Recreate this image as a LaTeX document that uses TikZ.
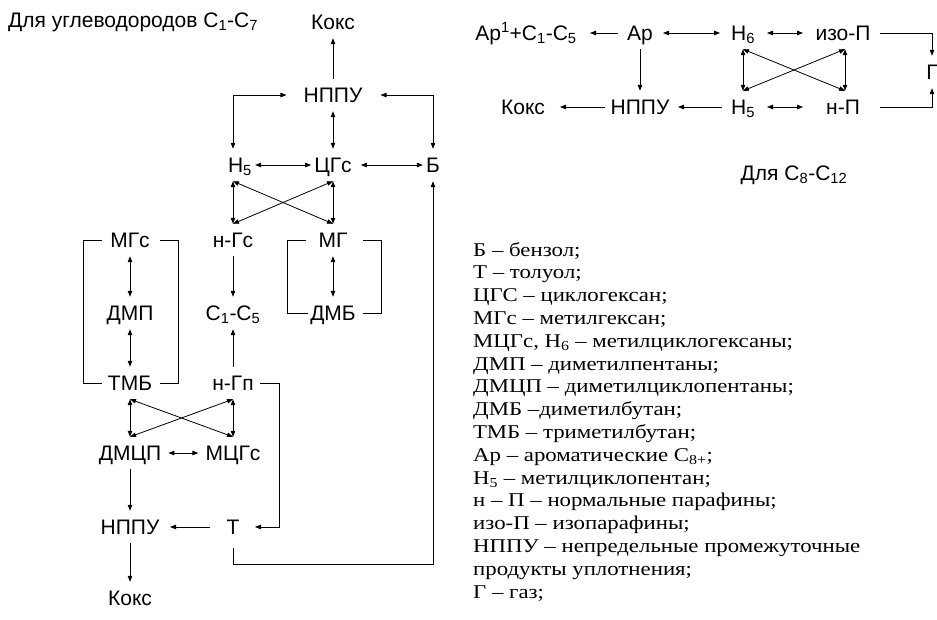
\documentclass[tikz,border=0pt]{standalone}
\usepackage{fontspec}
\setmainfont{Liberation Serif}[FakeStretch=1.17]
\newfontfamily\dsans{Liberation Sans}
\usetikzlibrary{arrows.meta,calc}
\begin{document}
\begin{tikzpicture}[x=1pt,y=-1pt,
  lbl/.style={font=\dsans\fontsize{21}{23}\selectfont,inner xsep=3pt,inner ysep=0pt,text height=15pt,text depth=0pt,minimum height=32pt},
  con/.style={line width=0.8pt},
  ar/.style={con,-{Triangle[length=6pt,width=4.5pt]}},
  dar/.style={con,{Triangle[length=6pt,width=4.5pt]}-{Triangle[length=6pt,width=4.5pt]}}
]
\fill[white] (0,0) rectangle (937,619);
\useasboundingbox (0,0) rectangle (937,619);

% ---------- left diagram ----------
\node[lbl,anchor=west,inner xsep=0pt] (title) at (8,20) {Для углеводородов С\textsubscript{1}-С\textsubscript{7}};
\node[lbl] (K1) at (333,22) {Кокс};
\node[lbl] (N1) at (333,95) {НППУ};
\node[lbl] (H5) at (240,165) {Н\textsubscript{5}};
\node[lbl] (CG) at (333,165) {ЦГс};
\node[lbl] (B) at (433,165) {Б};
\node[lbl] (MGs) at (130,240) {МГс};
\node[lbl] (nGs) at (233,240) {н-Гс};
\node[lbl] (MG) at (333,240) {МГ};
\node[lbl] (DMP) at (130,313) {ДМП};
\node[lbl] (C15) at (233,313) {С\textsubscript{1}-С\textsubscript{5}};
\node[lbl] (DMB) at (333,313) {ДМБ};
\node[lbl] (TMB) at (130,383) {ТМБ};
\node[lbl] (nGp) at (233,383) {н-Гп};
\node[lbl] (DMCP) at (130,453) {ДМЦП};
\node[lbl] (MCGs) at (233,453) {МЦГс};
\node[lbl] (N2) at (130,527) {НППУ};
\node[lbl] (T) at (233,527) {Т};
\node[lbl] (K2) at (130,598) {Кокс};

\draw[ar] (N1.north) -- (K1.south);
\draw[dar] (N1.south) -- (CG.north);
\draw[dar,shorten <=14pt] (N1.west) -| (H5.north -| nGs);
\draw[dar,shorten <=15pt] (N1.east) -| (B.north);
\draw[dar] (H5.east) -- (CG.west);
\draw[dar,shorten <=6pt] (CG.east) -- (B.west);
\draw[dar] (H5.south -| nGs) -- (nGs.north);
\draw[dar] (CG.south) -- (MG.north);
\draw[dar] (H5.south -| nGs) -- (MG.north);
\draw[dar] (CG.south) -- (nGs.north);
\draw[dar] (MGs.south) -- (DMP.north);
\draw[dar] (DMP.south) -- (TMB.north);
\draw[dar] (MG.south) -- (DMB.north);
\draw[ar] (nGs.south) -- (C15.north);
\draw[ar] (nGp.north) -- (C15.south);
% brackets
\draw[con] ($(MGs.center)+(-28,0)$) -- ($(MGs.center)+(-47,0)$) |- ($(TMB.center)+(-28,0)$);
\draw[con] ($(MGs.center)+(30,0)$) -- ($(MGs.center)+(48,0)$) |- ($(TMB.center)+(30,0)$);
\draw[con] ($(MG.center)+(-27,0)$) -- ($(MG.center)+(-46,0)$) |- ($(DMB.center)+(-25,0)$);
\draw[con] ($(MG.center)+(30,0)$) -- ($(MG.center)+(48,0)$) |- ($(DMB.center)+(30,0)$);
% lower cross
\draw[dar] (TMB.south) -- (DMCP.north);
\draw[dar] (nGp.south) -- (MCGs.north);
\draw[dar] (TMB.south) -- (MCGs.north);
\draw[dar] (nGp.south) -- (DMCP.north);
\draw[dar,shorten <=4pt,shorten >=4pt] (DMCP.east) -- (MCGs.west);
\draw[ar] (DMCP.south) -- (N2.north);
\draw[ar] (N2.south) -- (K2.north);
\draw[ar] ($(nGp.center)+(27,0)$) -- ($(nGp.center)+(46,0)$) |- ($(T.center)+(22,0)$);
\draw[ar] ($(T.center)+(-23,0)$) -- ($(N2.center)+(40,0)$);
\draw[ar,shorten <=5pt] (T.south) -- ++(0,21) -| (B.south);

% ---------- right diagram ----------
\node[lbl] (Ap1) at (526,33) {Ар\textsuperscript{1}+С\textsubscript{1}-С\textsubscript{5}};
\node[lbl] (Ar) at (640,33) {Ар};
\node[lbl] (H6) at (743,33) {Н\textsubscript{6}};
\node[lbl] (iso) at (843,33) {изо-П};
\node[lbl] (G) at (932,72) {Г};
\node[lbl] (K3) at (523,107) {Кокс};
\node[lbl] (N3) at (640,107) {НППУ};
\node[lbl] (H5b) at (743,107) {Н\textsubscript{5}};
\node[lbl] (nP) at (843,107) {н-П};
\node[lbl] (dl) at (794,173) {Для С\textsubscript{8}-С\textsubscript{12}};

\draw[ar] ($(Ar.center)+(-22,0)$) -- ($(Ap1.center)+(64,0)$);
\draw[dar] ($(Ar.center)+(23,0)$) -- ($(H6.center)+(-23,0)$);
\draw[dar] ($(H6.center)+(24,0)$) -- ($(iso.center)+(-40,0)$);
\draw[ar] ($(iso.center)+(37,0)$) -| (G.north);
\draw[ar] ($(nP.center)+(37,0)$) -| (G.south);
\draw[ar] (Ar.south) -- (N3.north);
\draw[ar] ($(N3.center)+(-35,0)$) -- ($(K3.center)+(37,0)$);
\draw[ar] ($(H5b.center)+(-21,0)$) -- ($(N3.center)+(38,0)$);
\draw[dar] ($(H5b.center)+(24,0)$) -- ($(nP.center)+(-40,0)$);
\draw[dar] (H6.south) -- (H5b.north);
\draw[dar] ($(iso.south)+(2,0)$) -- ($(nP.north)+(2,0)$);
\draw[dar] (H6.south) -- ($(nP.north)+(2,0)$);
\draw[dar] ($(iso.south)+(2,0)$) -- (H5b.north);

% ---------- legend ----------
\node[anchor=north west,align=left,inner sep=0pt,font=\fontsize{19.5}{22.8}\selectfont] (leg) at (473,242) {%
Б – бензол;\\
Т – толуол;\\
ЦГС – циклогексан;\\
МГс – метилгексан;\\
МЦГс, Н\textsubscript{6} – метилциклогексаны;\\
ДМП – диметилпентаны;\\
ДМЦП – диметилциклопентаны;\\
ДМБ –диметилбутан;\\
ТМБ – триметилбутан;\\
Ар – ароматические С\textsubscript{8+};\\
Н\textsubscript{5} – метилциклопентан;\\
н – П – нормальные парафины;\\
изо-П – изопарафины;\\
НППУ – непредельные промежуточные\\
продукты уплотнения;\\
Г – газ;};
\end{tikzpicture}
\end{document}
